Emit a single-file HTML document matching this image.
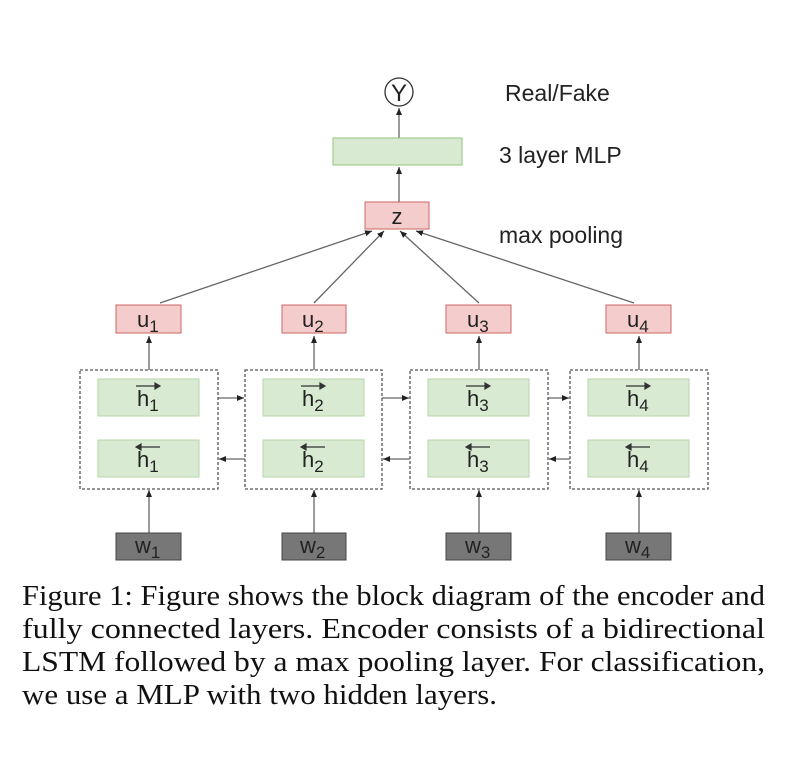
<!DOCTYPE html>
<html><head><meta charset="utf-8"><style>
html,body{margin:0;padding:0;background:#fff;}
svg{display:block;}
.s{font-family:"Liberation Sans",sans-serif;fill:#222;}
.c{font-family:"Liberation Serif",serif;fill:#111;font-size:28px;}
</style></head><body>
<svg width="792" height="760" viewBox="0 0 792 760" xmlns="http://www.w3.org/2000/svg">
<defs><marker id="a" markerWidth="8" markerHeight="8" refX="7" refY="4" orient="auto" markerUnits="userSpaceOnUse"><path d="M0,1 L7,4 L0,7 z" fill="#222"/></marker></defs>
<g stroke="#666" stroke-width="1.3" fill="none" marker-end="url(#a)">
<line x1="399" y1="138" x2="399" y2="108"/>
<line x1="399" y1="202" x2="399" y2="167"/>
<line x1="160" y1="303" x2="372" y2="231"/>
<line x1="314" y1="303" x2="384" y2="231"/>
<line x1="479" y1="303" x2="400" y2="231"/>
<line x1="634" y1="303" x2="416" y2="231"/>
<line x1="149" y1="370" x2="149" y2="336"/>
<line x1="314" y1="370" x2="314" y2="336"/>
<line x1="479" y1="370" x2="479" y2="336"/>
<line x1="639" y1="370" x2="639" y2="336"/>
<line x1="149" y1="533" x2="149" y2="490"/>
<line x1="314" y1="533" x2="314" y2="490"/>
<line x1="479" y1="533" x2="479" y2="490"/>
<line x1="639" y1="533" x2="639" y2="490"/>
<line x1="218" y1="398" x2="244" y2="398"/>
<line x1="382" y1="398" x2="409" y2="398"/>
<line x1="548" y1="398" x2="569" y2="398"/>
<line x1="245" y1="459" x2="219" y2="459"/>
<line x1="410" y1="459" x2="383" y2="459"/>
<line x1="570" y1="459" x2="549" y2="459"/>
</g>
<circle cx="399" cy="92" r="14" fill="#fff" stroke="#333" stroke-width="1.3"/>
<text x="399" y="101" class="s" font-size="24" text-anchor="middle">Y</text>
<rect x="333" y="138" width="129" height="27" fill="#d9ead3" stroke="#93c47d" stroke-width="1"/>
<rect x="365" y="202" width="64" height="27" fill="#f4cccc" stroke="#cc6666" stroke-width="1"/>
<text x="397" y="224" class="s" font-size="22" text-anchor="middle">z</text>
<text x="505" y="101" class="s" font-size="23">Real/Fake</text>
<text x="499" y="163" class="s" font-size="23">3 layer MLP</text>
<text x="499" y="243" class="s" font-size="23">max pooling</text>
<g stroke="#555" stroke-width="1.3" stroke-dasharray="3,2" fill="none">
<rect x="80" y="370" width="138" height="119"/>
<rect x="245" y="370" width="137" height="119"/>
<rect x="410" y="370" width="138" height="119"/>
<rect x="570" y="370" width="138" height="119"/>
</g>
<g fill="#d9ead3" stroke="#b6d7a8" stroke-width="1">
<rect x="98" y="379" width="101" height="37"/><rect x="98" y="440" width="101" height="37"/>
<rect x="263" y="379" width="101" height="37"/><rect x="263" y="440" width="101" height="37"/>
<rect x="428" y="379" width="101" height="37"/><rect x="428" y="440" width="101" height="37"/>
<rect x="588" y="379" width="101" height="37"/><rect x="588" y="440" width="101" height="37"/>
</g>
<g fill="#f4cccc" stroke="#cc6666" stroke-width="1">
<rect x="116" y="305" width="65" height="28"/><rect x="282" y="305" width="64" height="28"/>
<rect x="446" y="305" width="65" height="28"/><rect x="606" y="305" width="65" height="28"/>
</g>
<g fill="#777" stroke="#444" stroke-width="1">
<rect x="116" y="533" width="65" height="27"/><rect x="282" y="533" width="64" height="27"/>
<rect x="446" y="533" width="65" height="27"/><rect x="606" y="533" width="65" height="27"/>
</g>
<g class="s" font-size="22">
<text x="137" y="327">u<tspan font-size="17" dy="5">1</tspan></text>
<text x="302" y="327">u<tspan font-size="17" dy="5">2</tspan></text>
<text x="467" y="327">u<tspan font-size="17" dy="5">3</tspan></text>
<text x="627" y="327">u<tspan font-size="17" dy="5">4</tspan></text>
<text x="135" y="553">w<tspan font-size="17" dy="5">1</tspan></text>
<text x="300" y="553">w<tspan font-size="17" dy="5">2</tspan></text>
<text x="465" y="553">w<tspan font-size="17" dy="5">3</tspan></text>
<text x="625" y="553">w<tspan font-size="17" dy="5">4</tspan></text>
<text x="137" y="406">h<tspan font-size="17" dy="5">1</tspan></text>
<text x="137" y="467">h<tspan font-size="17" dy="5">1</tspan></text>
<text x="302" y="406">h<tspan font-size="17" dy="5">2</tspan></text>
<text x="302" y="467">h<tspan font-size="17" dy="5">2</tspan></text>
<text x="467" y="406">h<tspan font-size="17" dy="5">3</tspan></text>
<text x="467" y="467">h<tspan font-size="17" dy="5">3</tspan></text>
<text x="627" y="406">h<tspan font-size="17" dy="5">4</tspan></text>
<text x="627" y="467">h<tspan font-size="17" dy="5">4</tspan></text>
</g>
<g stroke="#333" stroke-width="1.2" fill="#333">
<path d="M136,386 h22" /><path d="M160,386 l-5,-3 v6z"/>
<path d="M301,386 h22" /><path d="M325,386 l-5,-3 v6z"/>
<path d="M466,386 h22" /><path d="M490,386 l-5,-3 v6z"/>
<path d="M626,386 h22" /><path d="M650,386 l-5,-3 v6z"/>
<path d="M138,447 h22" /><path d="M136,447 l5,-3 v6z"/>
<path d="M303,447 h22" /><path d="M301,447 l5,-3 v6z"/>
<path d="M468,447 h22" /><path d="M466,447 l5,-3 v6z"/>
<path d="M628,447 h22" /><path d="M626,447 l5,-3 v6z"/>
</g>
<text class="c" x="22" y="605" textLength="743" lengthAdjust="spacingAndGlyphs">Figure 1: Figure shows the block diagram of the encoder and</text>
<text class="c" x="22" y="638" textLength="743" lengthAdjust="spacingAndGlyphs">fully connected layers.  Encoder consists of a bidirectional</text>
<text class="c" x="22" y="671" textLength="743" lengthAdjust="spacingAndGlyphs">LSTM followed by a max pooling layer.  For classification,</text>
<text class="c" x="22" y="704" textLength="475" lengthAdjust="spacingAndGlyphs">we use a MLP with two hidden layers.</text>
</svg>
</body></html>
